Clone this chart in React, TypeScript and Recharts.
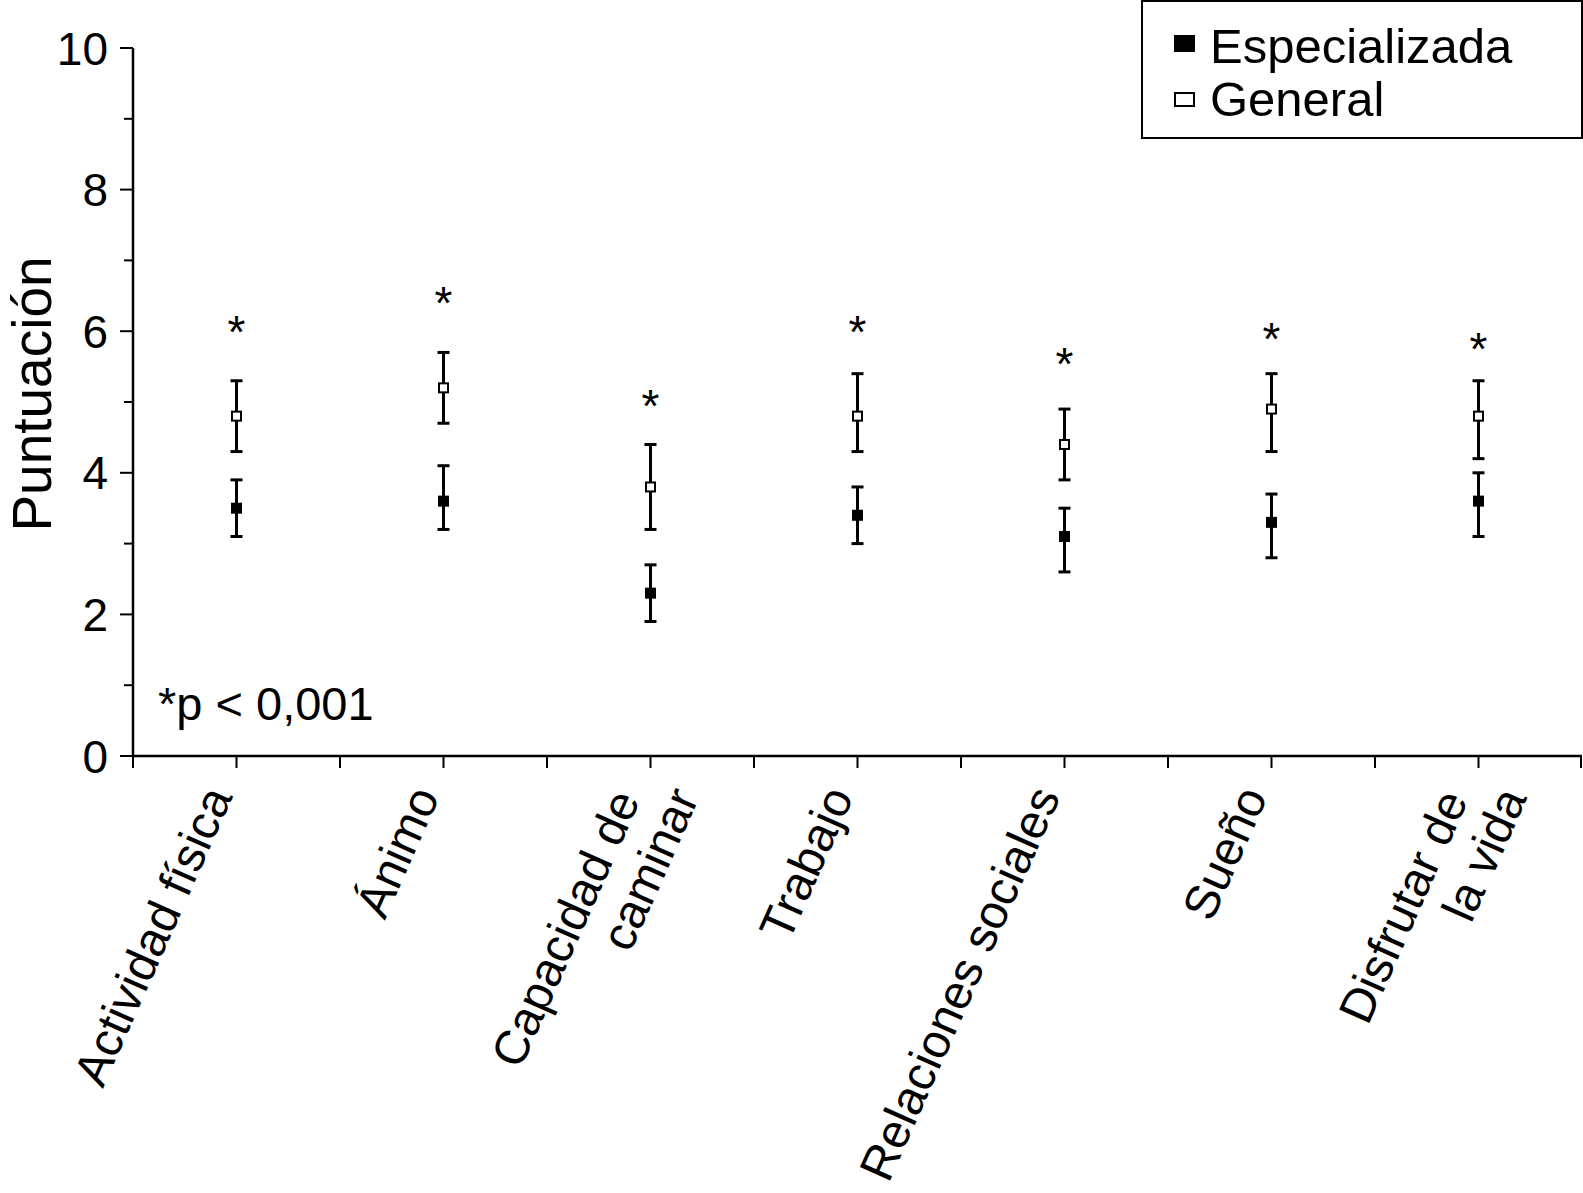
import React from 'react'
import { ComposedChart, Line, XAxis, YAxis, ErrorBar } from 'recharts'

const categories = [
  'Actividad física',
  'Ánimo',
  'Capacidad de\ncaminar',
  'Trabajo',
  'Relaciones sociales',
  'Sueño',
  'Disfrutar de\nla vida',
]
const especializada = [3.5, 3.6, 2.3, 3.4, 3.1, 3.3, 3.6]
const especializadaLow = [3.1, 3.2, 1.9, 3.0, 2.6, 2.8, 3.1]
const especializadaHigh = [3.9, 4.1, 2.7, 3.8, 3.5, 3.7, 4.0]
const general = [4.8, 5.2, 3.8, 4.8, 4.4, 4.9, 4.8]
const generalLow = [4.3, 4.7, 3.2, 4.3, 3.9, 4.3, 4.2]
const generalHigh = [5.3, 5.7, 4.4, 5.4, 4.9, 5.4, 5.3]
// where the significance asterisks sit, in score units
const asteriskY = [6.05, 6.45, 5.0, 6.05, 5.6, 5.95, 5.8]
const yTicks = [0, 1, 2, 3, 4, 5, 6, 7, 8, 9, 10]

const data = categories.map((name, i) => ({
  name,
  esp: especializada[i],
  espErr: [especializada[i] - especializadaLow[i], especializadaHigh[i] - especializada[i]],
  gen: general[i],
  genErr: [general[i] - generalLow[i], generalHigh[i] - general[i]],
  star: asteriskY[i],
}))

// body margin is dropped, so the chart fills the 1583x1193 page exactly
const W = 1583
const H = 1193
const MARGIN = { top: 48, right: 1, left: 0, bottom: 0 }
const Y_AXIS_W = 133
const X_AXIS_H = 437
const FONT = '"Liberation Sans", Arial, Helvetica, sans-serif'
const BAND = (W - MARGIN.right - Y_AXIS_W) / categories.length
const X_TICK = 12
const X_MARGIN = 30

function CategoryTick(props: any) {
  const { x, y, payload, index } = props
  const axisY = y - X_TICK - X_MARGIN
  const lines = String(payload.value).split('\n')
  const two = lines.length > 1
  return (
    <g>
      <line x1={x - BAND / 2} x2={x - BAND / 2} y1={axisY} y2={axisY + X_TICK} stroke="#000" strokeWidth={2} />
      {index === categories.length - 1 && (
        <line x1={x + BAND / 2 - 1} x2={x + BAND / 2 - 1} y1={axisY} y2={axisY + X_TICK} stroke="#000" strokeWidth={2} />
      )}
      <text
        x={x}
        y={y}
        transform={`rotate(-66, ${x}, ${y})`}
        textAnchor="end"
        fontSize={48}
        fontFamily={FONT}
        fill="#000"
      >
        {lines.map((l, i) => (
          <tspan
            key={i}
            x={x}
            dx={two ? (i === 0 ? '-0.12em' : '0.42em') : 0}
            dy={i === 0 ? (two ? '-0.17em' : '-0.08em') : '1.1em'}
          >
            {l}
          </tspan>
        ))}
      </text>
    </g>
  )
}

function ScoreTick(props: any) {
  const { x, y, payload } = props
  const axisX = x + 25
  const major = payload.value % 2 === 0
  return (
    <g>
      <line x1={axisX - (major ? 13 : 9)} x2={axisX} y1={y} y2={y} stroke="#000" strokeWidth={2} />
      {major && (
        <text x={x} y={y} dy="0.36em" textAnchor="end" fontSize={46} fontFamily={FONT} fill="#000">
          {payload.value}
        </text>
      )}
    </g>
  )
}

function ScoreLabel() {
  return (
    <text
      x={31}
      y={394}
      transform="rotate(-90, 31, 394)"
      textAnchor="middle"
      dy="0.36em"
      fontSize={55}
      fontFamily={FONT}
      fill="#000"
    >
      Puntuación
    </text>
  )
}

const FilledSquare = (props: any) => {
  const { cx, cy } = props
  if (cx == null || cy == null) return null
  return <rect x={cx - 5.5} y={cy - 5.5} width={11} height={11} fill="#000" />
}

const OpenSquare = (props: any) => {
  const { cx, cy } = props
  if (cx == null || cy == null) return null
  return <rect x={cx - 4.5} y={cy - 4.5} width={9} height={9} fill="#fff" stroke="#000" strokeWidth={2} />
}

const Asterisk = (props: any) => {
  const { cx, cy } = props
  if (cx == null || cy == null) return null
  return (
    <text x={cx} y={cy} dy={20} textAnchor="middle" fontSize={46} fontFamily={FONT} fill="#000">
      *
    </text>
  )
}

function LegendBox() {
  const text = {
    position: 'absolute' as const,
    left: 67,
    fontSize: 49,
    lineHeight: '49px',
    whiteSpace: 'nowrap' as const,
  }
  return (
    <div
      style={{
        position: 'absolute',
        top: 0,
        left: 1141,
        border: '2px solid #000',
        boxSizing: 'border-box',
        width: 442,
        height: 139,
        fontFamily: FONT,
        color: '#000',
        background: '#fff',
      }}
    >
      <span style={{ position: 'absolute', left: 31, top: 33, width: 21, height: 17, background: '#000' }} />
      <span style={{ ...text, top: 20 }}>Especializada</span>
      <span
        style={{
          position: 'absolute',
          left: 31,
          top: 90,
          width: 21,
          height: 15,
          boxSizing: 'border-box',
          border: '2px solid #000',
        }}
      />
      <span style={{ ...text, top: 73 }}>General</span>
    </div>
  )
}

export default function App() {
  return (
    <div style={{ position: 'relative', width: W, height: H }}>
      <style>{'body { margin: 0; overflow: hidden; }'}</style>
      <ComposedChart width={W} height={H} data={data} margin={MARGIN}>
        <XAxis
          dataKey="name"
          type="category"
          scale="band"
          height={X_AXIS_H}
          interval={0}
          tick={<CategoryTick />}
          tickSize={X_TICK}
          tickMargin={X_MARGIN}
          axisLine={{ stroke: '#000', strokeWidth: 2.5 }}
          tickLine={{ stroke: '#000', strokeWidth: 2 }}
        />
        <YAxis
          type="number"
          domain={[0, 10]}
          ticks={yTicks}
          interval={0}
          width={Y_AXIS_W}
          tick={<ScoreTick />}
          tickSize={13}
          tickMargin={12}
          tickLine={false}
          axisLine={{ stroke: '#000', strokeWidth: 2.5 }}
          label={<ScoreLabel />}
        />
        <Line
          dataKey="esp"
          name="Especializada"
          stroke="none"
          dot={<FilledSquare />}
          activeDot={false}
          isAnimationActive={false}
        >
          <ErrorBar dataKey="espErr" direction="y" width={6} stroke="#000" strokeWidth={3} />
        </Line>
        <Line
          dataKey="gen"
          name="General"
          stroke="none"
          dot={<OpenSquare />}
          activeDot={false}
          isAnimationActive={false}
        >
          <ErrorBar dataKey="genErr" direction="y" width={6} stroke="#000" strokeWidth={3} />
        </Line>
        <Line
          dataKey="star"
          legendType="none"
          stroke="none"
          dot={<Asterisk />}
          activeDot={false}
          isAnimationActive={false}
        />
      </ComposedChart>
      <LegendBox />
      <div
        style={{
          position: 'absolute',
          left: 158,
          top: 680,
          fontFamily: FONT,
          fontSize: 47,
          lineHeight: '47px',
          color: '#000',
          whiteSpace: 'nowrap',
        }}
      >
        *p &lt; 0,001
      </div>
    </div>
  )
}
